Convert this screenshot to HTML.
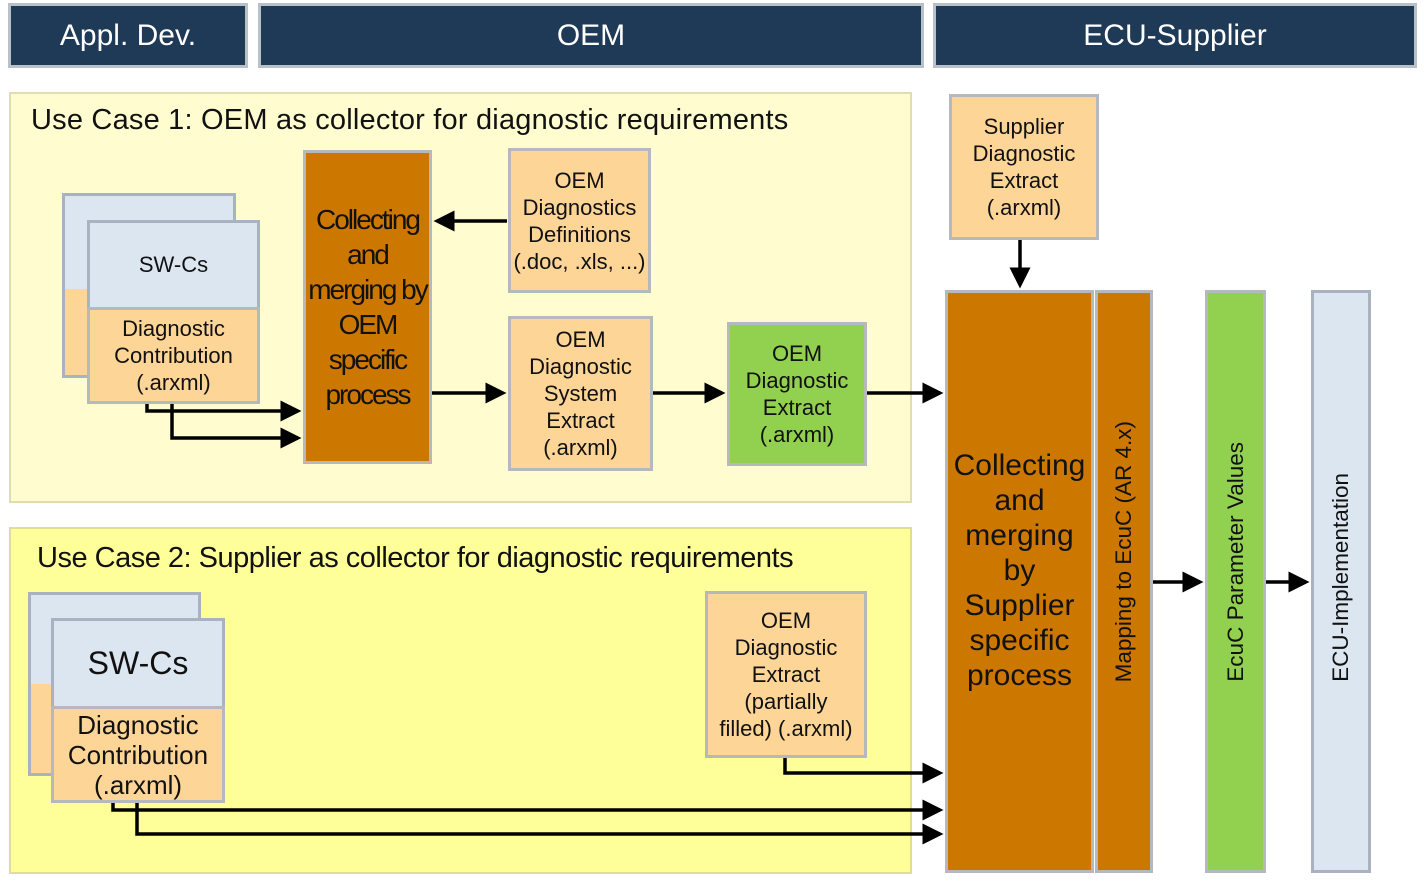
<!DOCTYPE html>
<html><head><meta charset="utf-8"><style>
body{margin:0;width:1424px;height:881px;background:#fff;position:relative;overflow:hidden;font-family:"Liberation Sans",sans-serif;}
div.b{position:absolute;box-sizing:border-box;display:flex;align-items:center;justify-content:center;text-align:center;color:#111;}
.hd{background:#1f3a57;color:#fff!important;font-size:30px;border:3px solid #b8c0c8;}
.or{background:#fdd597;border:3px solid #b5b8bc;font-size:22px;line-height:27px;}
.lb{background:#dce6f0;border:3px solid #a9b3bf;}
.dk{background:#cc7700;border:3px solid #b5b8bc;}
.vb{align-items:flex-end!important;padding-bottom:188px;}
.v{writing-mode:vertical-rl;transform:rotate(180deg);font-size:22.5px;}
</style></head><body>
<div class="b hd" style="left:8px;top:3px;width:240px;height:65px">Appl. Dev.</div>
<div class="b hd" style="left:258px;top:3px;width:666px;height:65px">OEM</div>
<div class="b hd" style="left:933px;top:3px;width:484px;height:65px">ECU-Supplier</div>

<div class="b" style="left:9px;top:92px;width:903px;height:411px;background:#fffdd0;border:2px solid #e0deb0;"></div>
<div class="b" style="left:9px;top:527px;width:903px;height:347px;background:#ffff99;border:2px solid #e0de90;"></div>
<div style="position:absolute;left:31px;top:104px;font-size:29px;color:#111;letter-spacing:0.2px">Use Case 1: OEM as collector for diagnostic requirements</div>
<div style="position:absolute;left:37px;top:542px;font-size:29px;color:#111;letter-spacing:-0.5px">Use Case 2: Supplier as collector for diagnostic requirements</div>

<div class="b lb" style="left:62px;top:193px;width:174px;height:185px;background:linear-gradient(#dce6f0 0 52%,#fdd597 52%)"></div>
<div class="b lb" style="left:87px;top:220px;width:173px;height:90px;font-size:22px">SW-Cs</div>
<div class="b or" style="left:87px;top:307px;width:173px;height:97px">Diagnostic<br>Contribution<br>(.arxml)</div>

<div class="b dk" style="left:303px;top:150px;width:129px;height:314px;font-size:28px;line-height:35px;letter-spacing:-2px;white-space:nowrap">Collecting<br>and<br>merging by<br>OEM<br>specific<br>process</div>
<div class="b or" style="left:508px;top:148px;width:143px;height:145px">OEM<br>Diagnostics<br>Definitions<br>(.doc, .xls, ...)</div>
<div class="b or" style="left:508px;top:316px;width:145px;height:155px">OEM<br>Diagnostic<br>System<br>Extract<br>(.arxml)</div>
<div class="b or" style="left:727px;top:322px;width:140px;height:144px;background:#92d050">OEM<br>Diagnostic<br>Extract<br>(.arxml)</div>

<div class="b lb" style="left:28px;top:592px;width:173px;height:184px;background:linear-gradient(#dce6f0 0 50%,#fdd597 50%)"></div>
<div class="b lb" style="left:51px;top:618px;width:174px;height:91px;font-size:32px">SW-Cs</div>
<div class="b or" style="left:51px;top:706px;width:174px;height:97px;font-size:26px;line-height:30px">Diagnostic<br>Contribution<br>(.arxml)</div>
<div class="b or" style="left:705px;top:591px;width:162px;height:167px">OEM<br>Diagnostic<br>Extract<br>(partially<br>filled) (.arxml)</div>

<div class="b or" style="left:949px;top:94px;width:150px;height:146px">Supplier<br>Diagnostic<br>Extract<br>(.arxml)</div>
<div class="b dk" style="left:945px;top:290px;width:149px;height:583px;font-size:30px;line-height:35px;padding-bottom:22px">Collecting<br>and<br>merging<br>by<br>Supplier<br>specific<br>process</div>
<div class="b dk vb" style="left:1095px;top:290px;width:58px;height:583px"><span class="v">Mapping to EcuC (AR 4.x)</span></div>
<div class="b dk vb" style="left:1205px;top:290px;width:61px;height:583px;background:#92d050"><span class="v">EcuC Parameter Values</span></div>
<div class="b lb vb" style="left:1311px;top:290px;width:60px;height:583px"><span class="v">ECU-Implementation</span></div>

<svg width="1424" height="881" style="position:absolute;left:0;top:0">
<defs><marker id="a" markerWidth="6" markerHeight="6" refX="5" refY="3" orient="auto" markerUnits="strokeWidth"><path d="M0,0L6,3L0,6z" fill="#000"/></marker></defs>
<g stroke="#000" stroke-width="3.5" fill="none" marker-end="url(#a)">
<path d="M147,404V411H298"/>
<path d="M172,404V438H298"/>
<path d="M507,221H437"/>
<path d="M432,393H503"/>
<path d="M653,393H722"/>
<path d="M867,393H940"/>
<path d="M1020,240V285"/>
<path d="M1153,582H1200"/>
<path d="M1266,582H1306"/>
<path d="M785,758V773H940"/>
<path d="M113,803V810H940"/>
<path d="M137,803V834H940"/>
</g></svg>
</body></html>
